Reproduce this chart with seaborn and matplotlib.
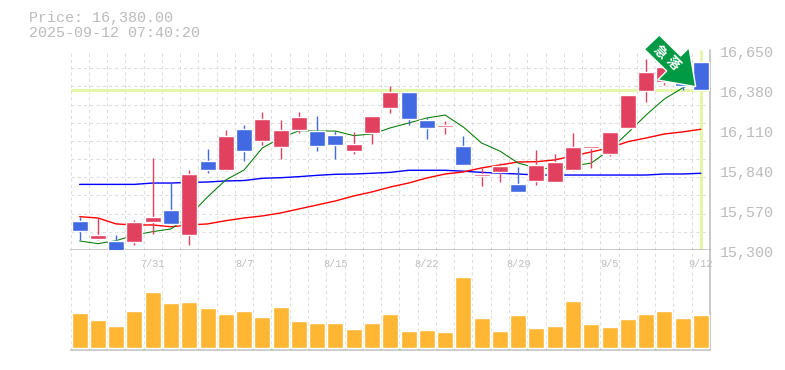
import numpy as np
import pandas as pd
import seaborn as sns
import matplotlib
matplotlib.use("Agg")
import matplotlib.pyplot as plt
from matplotlib.patches import Polygon
from matplotlib.transforms import ScaledTranslation

opens = [15496, 15374, 15361, 15354, 15489, 15570, 15401, 15901, 15840, 16117, 16036, 15995,
         16110, 16103, 16076, 15968, 16090, 16259, 16367, 16178, 16130, 16002, 15800, 15827,
         15746, 15766, 15759, 15840, 15989, 15948, 16124, 16373, 16434, 16502, 16569]
highs = [15525, 15516, 15401, 15503, 15921, 15752, 15840, 15982, 16110, 16144, 16232, 16178,
         16232, 16205, 16103, 16097, 16205, 16407, 16367, 16191, 16171, 16070, 15854, 15887,
         15860, 15975, 15948, 16090, 16002, 16097, 16346, 16589, 16560, 16520, 16569]
lows = [15368, 15368, 15293, 15334, 15408, 15476, 15334, 15820, 15833, 15901, 16009, 15914,
        16090, 15968, 15914, 15948, 16016, 16225, 16144, 16049, 16083, 15874, 15732, 15759,
        15692, 15739, 15759, 15833, 15854, 15935, 16124, 16299, 16414, 16380, 16380]
closes = [15428, 15401, 15293, 15489, 15523, 15476, 15813, 15840, 16070, 15968, 16184, 16110,
          16198, 16002, 16009, 16016, 16205, 16367, 16184, 16124, 16144, 15874, 15813, 15867,
          15692, 15874, 15894, 15995, 16002, 16097, 16346, 16502, 16535, 16407, 16380]
ma_short = [15361, 15343, 15363, 15401, 15424, 15442, 15530, 15658, 15773, 15840, 15989, 16056,
            16105, 16103, 16103, 16072, 16083, 16124, 16157, 16191, 16211, 16130, 16022, 15968,
            15887, 15854, 15847, 15867, 15887, 15975, 16090, 16211, 16319, 16394, 16448]
ma_mid = [15525, 15516, 15476, 15469, 15469, 15457, 15469, 15476, 15498, 15516, 15530, 15550,
          15577, 15604, 15631, 15665, 15692, 15725, 15752, 15786, 15813, 15827, 15854, 15874,
          15894, 15896, 15908, 15935, 15962, 15989, 16031, 16056, 16083, 16097, 16115]
ma_long = [15743, 15743, 15743, 15743, 15752, 15752, 15756, 15759, 15766, 15769, 15784, 15788,
           15795, 15804, 15811, 15813, 15818, 15824, 15838, 15838, 15838, 15832, 15824, 15818,
           15813, 15806, 15806, 15806, 15806, 15806, 15806, 15806, 15813, 15813, 15818]
volume = [35, 28, 22, 37, 56, 45, 46, 40, 34, 37, 31, 41, 27, 25, 25, 19, 25, 34,
          17, 18, 16, 71, 30, 17, 33, 20, 22, 47, 24, 21, 29, 34, 37, 30, 33]

date_pos = [4, 9, 14, 19, 24, 29, 34]
date_labels = ["7/31", "8/7", "8/15", "8/22", "8/29", "9/5", "9/12"]
price_ticks = [15300, 15570, 15840, 16110, 16380, 16650]
price_labels = ["15,300", "15,570", "15,840", "16,110", "16,380", "16,650"]
last_price = 16380

RED = "#E2405F"
BLUE = "#4169E1"
ORANGE = "#FFB733"
PALE = "#E4F6AC"
GREY = "#BBBBBB"
GRID = "#DDDDDD"
W, H = 785, 370

sns.set_theme(style="white")
plt.rcParams["font.family"] = ["Liberation Mono", "DejaVu Sans Mono"]

df = pd.DataFrame({"pos": np.arange(len(opens)), "open": opens, "high": highs, "low": lows,
                   "close": closes, "short": ma_short, "mid": ma_mid, "long": ma_long,
                   "volume": volume})
df["color"] = np.where(df["close"] >= df["open"], RED, BLUE)

fig = plt.figure(figsize=(W / 100, H / 100), dpi=100)
ax = fig.add_axes([70.5 / W, 1 - 250 / H, 639.5 / W, 200 / H])
ax_v = fig.add_axes([70.5 / W, 1 - 350 / H, 639.5 / W, 100 / H])

# price panel
for a in (ax, ax_v):
    a.set_xlim(-0.5, 34.5)
    a.set_xticks(df["pos"] - 0.5, minor=True)
    a.grid(True, which="minor", axis="x", color=GRID, ls=(0, (3, 3)), lw=0.75)
    a.set_axisbelow(True)
    a.tick_params(which="both", length=0)
    for s in ("top", "left"):
        a.spines[s].set_visible(False)
    for s in ("bottom", "right"):
        a.spines[s].set_color(GREY)
        a.spines[s].set_linewidth(1.1)

ax.set_ylim(15300, 16650)
ax.set_yticks(np.linspace(15300, 16650, 12), minor=True)
ax.grid(True, which="minor", axis="y", color=GRID, ls=(0, (3, 3)), lw=0.75)
ax.yaxis.tick_right()
ax.set_yticks(price_ticks, price_labels, fontsize=10.8, color=GREY)
ax.tick_params(axis="y", which="major", pad=7)
for lab in ax.get_yticklabels():
    lab.set_clip_on(False)
    lab.set_transform(lab.get_transform() + ScaledTranslation(0, -2 / 100, fig.dpi_scale_trans))
ax.set_xticks([])

ax.axhline(last_price, color=PALE, lw=2.2, zorder=1.5)
ax.axvline(34, ymax=0.995, ymin=0.005, color=PALE, lw=2.2, zorder=1.5)

sns.lineplot(data=df, x="pos", y="long", color="#0000FF", lw=1.0, ax=ax, zorder=2)
sns.lineplot(data=df, x="pos", y="mid", color="#FF0000", lw=1.0, ax=ax, zorder=2)
sns.lineplot(data=df, x="pos", y="short", color="#007A00", lw=0.75, ax=ax, zorder=2)
ax.set_xlabel("")
ax.set_ylabel("")

ax.vlines(df["pos"], df["low"], df["high"], colors=df["color"], lw=1.0, zorder=3)
ax.bar(df["pos"], df["close"] - df["open"], bottom=df["open"], width=0.875,
       color=df["color"], zorder=3)

# volume panel
sns.barplot(data=df, x="pos", y="volume", color=ORANGE, saturation=1, width=0.875, ax=ax_v,
            native_scale=True, zorder=3)
ax_v.set_xlim(-0.5, 34.5)
ax_v.set_ylim(-2, 98)
ax_v.set_yticks([])
ax_v.set_xlabel("")
ax_v.set_ylabel("")
ax_v.set_xticks(date_pos, date_labels, fontsize=7.4, color=GREY)
ax_v.tick_params(axis="x", which="major", top=True, labeltop=True, bottom=False,
                 labelbottom=False, length=0, pad=-14)

fig.text(29 / W, 1 - 18 / H, "Price: 16,380.00", fontsize=10.8, color=GREY, va="center")
fig.text(29 / W, 1 - 33 / H, "2025-09-12 07:40:20", fontsize=10.8, color=GREY, va="center")

# green marker
arrow_px = [(659.3, 35), (644.3, 49.3), (666.7, 71), (657.7, 80), (695.7, 86.7), (689, 47.7),
            (680.7, 56)]
arrow = Polygon([(x / W, 1 - y / H) for x, y in arrow_px], closed=True, transform=fig.transFigure,
                facecolor="#009A44", edgecolor="white", lw=1.0, zorder=10)
fig.add_artist(arrow)
fig.text(660 / W, 1 - 52 / H, "急", family=["Noto Sans CJK JP", "DejaVu Sans"], fontsize=9.5,
         fontweight="bold", color="white", rotation=-45, ha="center", va="center", zorder=11)
fig.text(673 / W, 1 - 63 / H, "落", family=["Noto Sans CJK JP", "DejaVu Sans"], fontsize=9.5,
         fontweight="bold", color="white", rotation=-45, ha="center", va="center", zorder=11)

fig.savefig("out.png", dpi=100)
